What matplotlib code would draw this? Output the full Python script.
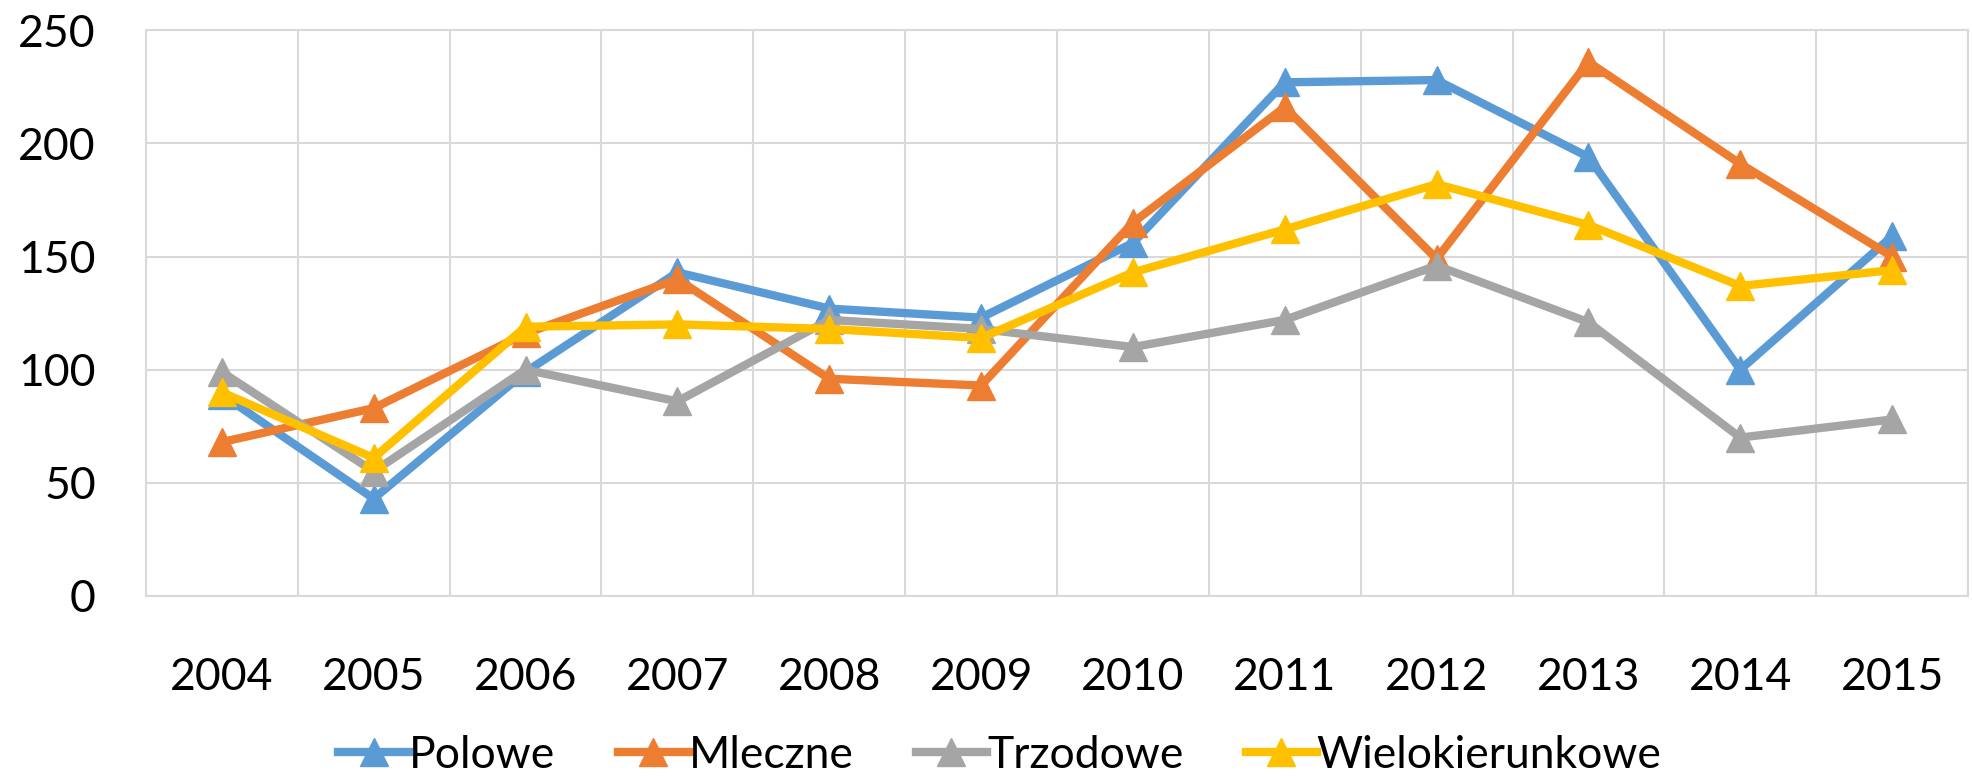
import matplotlib
matplotlib.use("Agg")
import matplotlib.pyplot as plt
import numpy as np

plt.rcParams['font.family'] = ['Lato', 'DejaVu Sans']

years = ['2004', '2005', '2006', '2007', '2008', '2009',
         '2010', '2011', '2012', '2013', '2014', '2015']
polowe = [89, 43, 99, 143, 127, 123, 156, 227, 228, 194, 100, 159]
mleczne = [68, 83, 116, 140, 96, 93, 165, 216, 149, 236, 191, 150]
trzodowe = [99, 55, 100, 86, 122, 118, 110, 122, 146, 121, 70, 78]
wielo = [90, 61, 119, 120, 118, 114, 143, 162, 182, 164, 137, 144]

series = [('Polowe', polowe, '#5B9BD5'),
          ('Mleczne', mleczne, '#ED7D31'),
          ('Trzodowe', trzodowe, '#A5A5A5'),
          ('Wielokierunkowe', wielo, '#FFC000')]

fig = plt.figure(figsize=(19.72, 7.76), dpi=100)
ax = fig.add_axes([0.074, 0.232, 0.924, 0.729])

x = np.arange(len(years))
for name, vals, col in series:
    ax.plot(x, vals, color=col, lw=6, marker='^', ms=20, label=name)

ax.set_xlim(-0.5, len(years) - 0.5)
ax.set_ylim(0, 250)
ax.set_yticks(np.arange(0, 251, 50))
ax.set_xticks(x)
ax.set_xticklabels(years)
ax.set_xticks(np.arange(-0.5, len(years), 1), minor=True)

ax.grid(True, which='major', axis='y', color='#D9D9D9', lw=1.5)
ax.grid(True, which='minor', axis='x', color='#D9D9D9', lw=1.5)
ax.set_axisbelow(True)
for s in ax.spines.values():
    s.set_color('#D9D9D9')
    s.set_linewidth(1.5)

ax.tick_params(which='both', length=0)
ax.tick_params(axis='y', labelsize=32, pad=36)
ax.tick_params(axis='x', labelsize=32, pad=44)

ax.legend(loc='center', bbox_to_anchor=(0.507, 0.027), bbox_transform=fig.transFigure,
          ncol=4, frameon=False, fontsize=32, handlelength=1.6, handletextpad=0.0,
          columnspacing=1.4, borderaxespad=0)

fig.savefig('out.png', dpi=100)
